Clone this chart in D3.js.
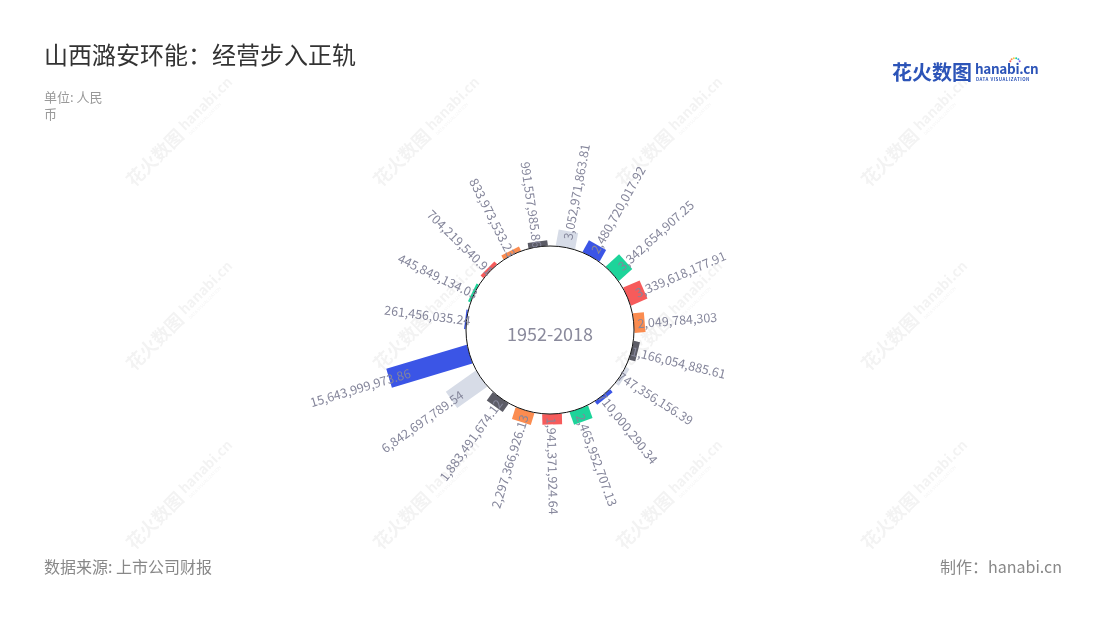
<!DOCTYPE html>
<html>
<head>
<meta charset="utf-8">
<script src="https://cdn.jsdelivr.net/npm/d3@7/dist/d3.min.js"></script>
<style>
  html, body { margin: 0; padding: 0; background: #fff; }
  svg { display: block; font-family: "Noto Sans CJK SC", "Noto Sans", sans-serif; }
</style>
</head>
<body>
<svg id="chart" width="1100" height="620"></svg>
<script>
// ---- data (in series order; colours cycle over this order) ----
const categories = ["1","2","3","4","5","6","7","8","9","10","11","12","13","14","15","16","17","18","19"];
const values = [
  261456035.24, 445849134.03, 704219540.91, 833973533.23, 991557985.86,
  3052971863.81, 2480720017.92, 3342654907.25, 3339618177.91, 2049784303,
  1166054885.61, 747356156.39, 710000290.34, 2465952707.13, 1941371924.64,
  2297366926.13, 1883491674.12, 6842697789.54, 15643999973.86
];
const palette = ["#3b55e6", "#1dd49a", "#f65b5b", "#fb8c50", "#5c5c66", "#d7dce7"];
const centerLabel = "1952-2018";

const svg = d3.select("#chart");

// ---- watermarks ----
const wmX = [180, 427, 670, 915], wmY = [132, 316, 495];
const wm = svg.append("g").attr("opacity", 0.05);
wmY.forEach(y => wmX.forEach(x => {
  const g = wm.append("g").attr("transform", `translate(${x},${y}) rotate(-45)`);
  g.append("text").attr("x", -72).attr("y", 7).attr("font-size", 18).attr("font-weight", 700)
    .attr("fill", "#000").text("花火数图");
  g.append("text").attr("x", 4).attr("y", 3).attr("font-size", 14).attr("font-weight", 700)
    .attr("fill", "#000").text("hanabi.cn");
  g.append("text").attr("x", 5).attr("y", 10).attr("font-size", 4.5)
    .attr("fill", "#000").text("DATA VISUALIZATION");
}));

// ---- titles ----
svg.append("text").attr("x", 44).attr("y", 64).attr("font-size", 24).attr("fill", "#333")
  .text("山西潞安环能：经营步入正轨");
const sub = svg.append("text").attr("x", 44).attr("y", 102).attr("font-size", 13).attr("fill", "#999");
sub.append("tspan").attr("x", 44).text("单位: 人民");
sub.append("tspan").attr("x", 44).attr("dy", 17).text("币");

svg.append("text").attr("x", 44).attr("y", 573).attr("font-size", 16).attr("fill", "#888")
  .text("数据来源: 上市公司财报");
svg.append("text").attr("x", 1062).attr("y", 573).attr("font-size", 16).attr("fill", "#888")
  .attr("text-anchor", "end").text("制作：hanabi.cn");

// ---- logo ----
const logo = svg.append("g");
logo.append("text").attr("x", 892).attr("y", 80).attr("font-size", 20).attr("font-weight", 700)
  .attr("fill", "#2c54b8").text("花火数图");
logo.append("text").attr("x", 975).attr("y", 74).attr("font-size", 13.5).attr("font-weight", 700)
  .attr("fill", "#2c54b8").attr("letter-spacing", -0.3).text("hanabi.cn");
logo.append("text").attr("x", 976).attr("y", 81).attr("font-size", 4.4).attr("font-weight", 700)
  .attr("fill", "#2c54b8").attr("letter-spacing", 0.5).text("DATA VISUALIZATION");
const dotC = ["#f65b5b", "#fb8c50", "#f7c948", "#1dd49a", "#3b9fe6", "#8a5be6"];
dotC.forEach((c, i) => {
  const a = (-160 + i * 28) * Math.PI / 180;
  logo.append("circle").attr("cx", 1015 + 5 * Math.cos(a)).attr("cy", 63 + 5 * Math.sin(a))
    .attr("r", 1).attr("fill", c);
});

// ---- radial bar chart ----
const cx = 550, cy = 330, inner = 84, maxLen = 84;
const step = 2 * Math.PI / categories.length;
const start = -5 * step;
const angle = d3.scaleBand().domain(categories).range([start, start + 2 * Math.PI]).padding(0.28);
const len = d3.scaleLinear().domain([0, d3.max(values)]).range([0, maxLen]);
const barW = angle.bandwidth() * inner;

const data = categories.map((c, i) => ({ c, v: values[i], i }));
const deg = d => {
  let a = (angle(d.c) + angle.bandwidth() / 2) * 180 / Math.PI;
  a = ((a % 360) + 360) % 360;
  return a;
};

const g = svg.append("g").attr("transform", `translate(${cx},${cy})`);

g.selectAll("rect.bar").data(data).join("rect")
  .attr("class", "bar")
  .attr("transform", d => `rotate(${deg(d)})`)
  .attr("x", -barW / 2)
  .attr("y", d => -(inner + len(d.v)))
  .attr("width", barW)
  .attr("height", d => len(d.v))
  .attr("fill", d => palette[d.i % palette.length]);

g.append("circle").attr("r", inner).attr("fill", "none").attr("stroke", "#111").attr("stroke-width", 1);

g.append("text").attr("y", 3).attr("text-anchor", "middle").attr("dominant-baseline", "central")
  .attr("font-size", 18).attr("fill", "#8a8a9c").text(centerLabel);

const fmt = v => v.toLocaleString("en-US", { maximumFractionDigits: 2 });
g.selectAll("text.lbl").data(data).join("text")
  .attr("class", "lbl")
  .attr("font-size", 12.5)
  .attr("fill", "#85869b")
  .attr("dominant-baseline", "central")
  .attr("transform", d => {
    const a = deg(d);
    const r = inner + 0.8 * len(d.v) - 5;
    return a <= 180.5 ? `rotate(${a - 90}) translate(${r},0)` : `rotate(${a + 90}) translate(${-r},0)`;
  })
  .attr("text-anchor", d => deg(d) <= 180.5 ? "start" : "end")
  .text(d => fmt(d.v));
</script>
</body>
</html>
